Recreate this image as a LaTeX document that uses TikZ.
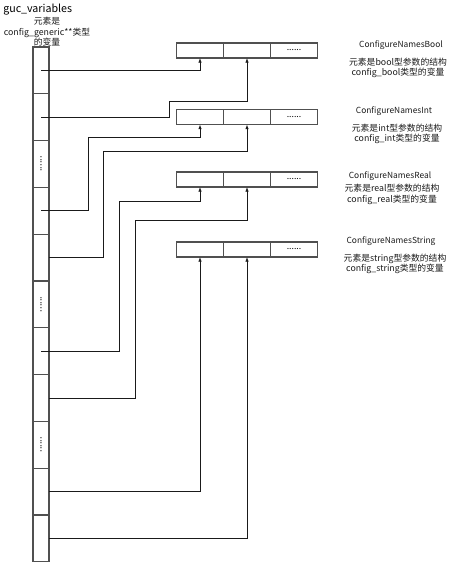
\documentclass[tikz,border=0pt]{standalone}
\usepackage{fontspec}
\setmainfont{Noto Sans CJK SC}
\usetikzlibrary{arrows.meta,positioning}
\definecolor{ink}{HTML}{1A1A1A}
\definecolor{inkgray}{HTML}{505050}
\tikzset{
  slot/.style={draw=inkgray,line width=0.8pt,
               minimum width=12pt,minimum height=35.1pt,
               inner sep=0pt,outer sep=0pt},
  cellbox/.style={draw=inkgray,line width=0.8pt,
                  minimum width=35.25pt,minimum height=11.25pt,
                  inner sep=0pt,outer sep=0pt,
                  font=\fontsize{6.5}{7}\selectfont},
  vdots/.style={rotate=90,inner sep=0pt,font=\fontsize{7}{8}\selectfont},
  title/.style={text=ink,inner sep=1pt,font=\fontsize{6.3}{7.5}\selectfont},
  caption/.style={text=ink,inner sep=1pt,align=center,
                  font=\fontsize{6.6}{7.9}\selectfont},
  link/.style={draw=ink,line width=0.6pt,
               -{Latex[length=3.5pt,width=2.6pt]}}
}

\begin{document}
\begin{tikzpicture}[x=0.75pt,y=-0.75pt]
  \useasboundingbox (0,0) rectangle (465,584);
  % the guc_variables column
  \node[anchor=west,inner sep=0pt,font=\fontsize{8}{9}\selectfont] (guc) at (3,10) {guc\_variables};
  \node[caption] (gucnote) at (47,32) {元素是\\config\_generic**类型\\的变量};
  \node[slot] (c1) at (41,70.4) {};
  \foreach \i [count=\j from 1] in {2,...,11}
    \node[slot,below=0pt of c\j] (c\i) {};
  \foreach \i in {3,6,9}
    \node[vdots] (d\i) at (c\i) {......};
  % the four arrays
  \foreach \name/\y in {bool/50.5,int/117,real/179.5,str/249.5} {
    \node[cellbox] (\name1) at (200,\y) {};
    \node[cellbox,right=0pt of \name1] (\name2) {};
    \node[cellbox,right=0pt of \name2] (\name3) {......};
  }
  % labels on the right
  \node[title] (tbool) at (401,45) {ConfigureNamesBool};
  \node[caption] (nbool) at (398,68) {元素是bool型参数的结构\\config\_bool类型的变量};
  \node[title] (tint) at (394,111) {ConfigureNamesInt};
  \node[caption] (nint) at (397,134) {元素是int型参数的结构\\config\_int类型的变量};
  \node[title] (treal) at (390,176) {ConfigureNamesReal};
  \node[caption] (nreal) at (392,194.5) {元素是real型参数的结构\\config\_real类型的变量};
  \node[title] (tstr) at (391,241) {ConfigureNamesString};
  \node[caption] (nstr) at (395,264) {元素是string型参数的结构\\config\_string类型的变量};
  % connectors
  \draw[link] (c1.center) -| (bool1.south);
  \draw[link] (c2.center) -| (169,101) -| (bool2.south);
  \draw[link] (c4.center) -| (88,137) -| (int1.south);
  \draw[link] (c5.east) -| (103,151) -| (int2.south);
  \draw[link] (c7.center) -| (119,201) -| (real1.south);
  \draw[link] (c8.east) -| (135,220) -| (real2.south);
  \draw[link] (c10.east) -| (str1.south);
  \draw[link] (c11.east) -| (str2.south);
\end{tikzpicture}
\end{document}
